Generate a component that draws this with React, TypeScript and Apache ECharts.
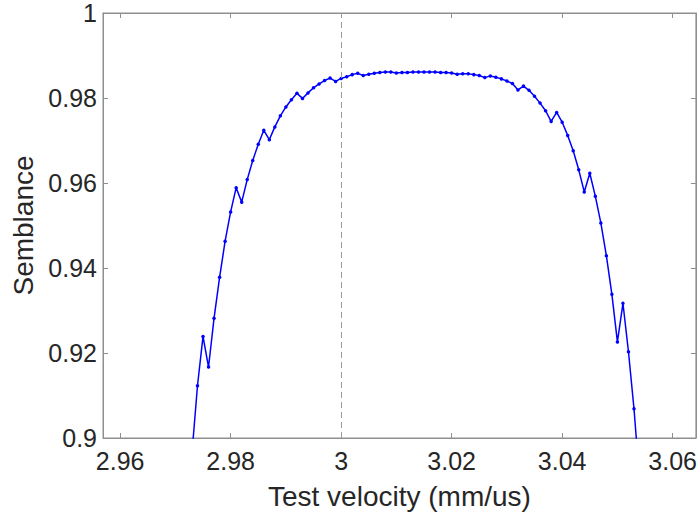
import React, { useEffect, useRef } from "react";
import * as echarts from "echarts";

const velocities = [
  2.973, 2.974, 2.975, 2.976, 2.977, 2.978, 2.979, 2.98, 2.981, 2.982,
  2.983, 2.984, 2.985, 2.986, 2.987, 2.988, 2.989, 2.99, 2.991, 2.992,
  2.993, 2.994, 2.995, 2.996, 2.997, 2.998, 2.999, 3.0, 3.001, 3.002,
  3.003, 3.004, 3.005, 3.006, 3.007, 3.008, 3.009, 3.01, 3.011, 3.012,
  3.013, 3.014, 3.015, 3.016, 3.017, 3.018, 3.019, 3.02, 3.021, 3.022,
  3.023, 3.024, 3.025, 3.026, 3.027, 3.028, 3.029, 3.03, 3.031, 3.032,
  3.033, 3.034, 3.035, 3.036, 3.037, 3.038, 3.039, 3.04, 3.041, 3.042,
  3.043, 3.044, 3.045, 3.046, 3.047, 3.048, 3.049, 3.05, 3.051, 3.052,
  3.053, 3.054,
];

const semblance = [
  0.8964, 0.9123, 0.9239, 0.9167, 0.9282, 0.9378, 0.9463, 0.9532, 0.9589, 0.9555,
  0.9608, 0.9653, 0.9691, 0.9724, 0.9702, 0.9732, 0.9758, 0.9779, 0.9796, 0.9811,
  0.9799, 0.9812, 0.9824, 0.9833, 0.9841, 0.9847, 0.9839, 0.9846, 0.985, 0.9855,
  0.9858, 0.9853, 0.9856, 0.9858, 0.986, 0.9861, 0.9861, 0.9859, 0.986, 0.986,
  0.9861, 0.9861, 0.9861, 0.9861, 0.9861, 0.986, 0.986, 0.9859, 0.9856, 0.9857,
  0.9857, 0.9855, 0.9853, 0.9848, 0.9852, 0.9849, 0.9845, 0.984, 0.9834, 0.9819,
  0.9828, 0.9818, 0.9804, 0.9788, 0.977, 0.9745, 0.9766, 0.9743, 0.9712, 0.9676,
  0.9631, 0.9579, 0.9623, 0.9569, 0.9506, 0.9429, 0.9338, 0.9226, 0.9317, 0.9203,
  0.9069, 0.8902,
];

const xTicks = [2.96, 2.98, 3.0, 3.02, 3.04, 3.06];
const yTicks = [0.9, 0.92, 0.94, 0.96, 0.98, 1.0];
const xRange = [2.9569, 3.0642];
const yRange = [0.9, 1.0];
const referenceVelocity = [3.0];

export default function App() {
  const ref = useRef<HTMLDivElement>(null);

  useEffect(() => {
    if (!ref.current) return;
    const chart = echarts.init(ref.current, null, { renderer: "svg" });
    const fmt = (v: number) => String(parseFloat(Number(v).toFixed(2)));
    const axisColor = "#8f8f8f";
    const textColor = "#262626";
    const font = "'Liberation Sans', Arial, Helvetica, sans-serif";
    const lineStyle = { color: axisColor, width: 1 };

    const data = velocities.map((v, i) => [v, semblance[i]]);

    chart.setOption({
      animation: false,
      backgroundColor: "#ffffff",
      grid: {
        left: 103,
        top: 13,
        width: 594,
        height: 425.5,
        show: true,
        borderColor: axisColor,
        borderWidth: 1,
        backgroundColor: "transparent",
      },
      xAxis: [
        {
          type: "value",
          position: "bottom",
          min: xRange[0],
          max: xRange[1],
          name: "Test velocity (mm/us)",
          nameLocation: "middle",
          nameGap: 44,
          nameTextStyle: { color: textColor, fontSize: 28, fontFamily: font },
          axisLine: { show: true, lineStyle },
          axisTick: { show: true, inside: true, length: 5, customValues: xTicks, lineStyle },
          axisLabel: {
            customValues: xTicks,
            formatter: fmt,
            color: textColor,
            fontSize: 25,
            fontFamily: font,
            margin: 10,
          },
          splitLine: { show: false },
        },
        {
          type: "value",
          position: "top",
          min: xRange[0],
          max: xRange[1],
          axisLine: { show: true, lineStyle },
          axisTick: { show: true, inside: true, length: 5, customValues: xTicks, lineStyle },
          axisLabel: { show: false },
          splitLine: { show: false },
        },
      ],
      yAxis: [
        {
          type: "value",
          position: "left",
          min: yRange[0],
          max: yRange[1],
          name: "Semblance",
          nameLocation: "middle",
          nameGap: 61,
          nameTextStyle: { color: textColor, fontSize: 28, fontFamily: font },
          axisLine: { show: true, lineStyle },
          axisTick: { show: true, inside: true, length: 5, customValues: yTicks, lineStyle },
          axisLabel: {
            customValues: yTicks,
            formatter: fmt,
            color: textColor,
            fontSize: 25,
            fontFamily: font,
            margin: 6,
          },
          splitLine: { show: false },
        },
        {
          type: "value",
          position: "right",
          min: yRange[0],
          max: yRange[1],
          axisLine: { show: true, lineStyle },
          axisTick: { show: true, inside: true, length: 5, customValues: yTicks, lineStyle },
          axisLabel: { show: false },
          splitLine: { show: false },
        },
      ],
      series: [
        {
          type: "line",
          xAxisIndex: 0,
          yAxisIndex: 0,
          data,
          clip: true,
          symbol: "circle",
          symbolSize: 3.5,
          showSymbol: true,
          showAllSymbol: true,
          itemStyle: { color: "#0000ff" },
          lineStyle: { color: "#0000ff", width: 1.5 },
          markLine: {
            silent: true,
            symbol: ["none", "none"],
            label: { show: false },
            lineStyle: { color: "#999999", width: 1, type: [6, 4] },
            data: referenceVelocity.map((v) => ({ xAxis: v })),
          },
          z: 3,
        },
      ],
    });

    return () => chart.dispose();
  }, []);

  return (
    <div
      ref={ref}
      style={{ position: "absolute", left: 0, top: 0, width: 700, height: 515 }}
    />
  );
}
